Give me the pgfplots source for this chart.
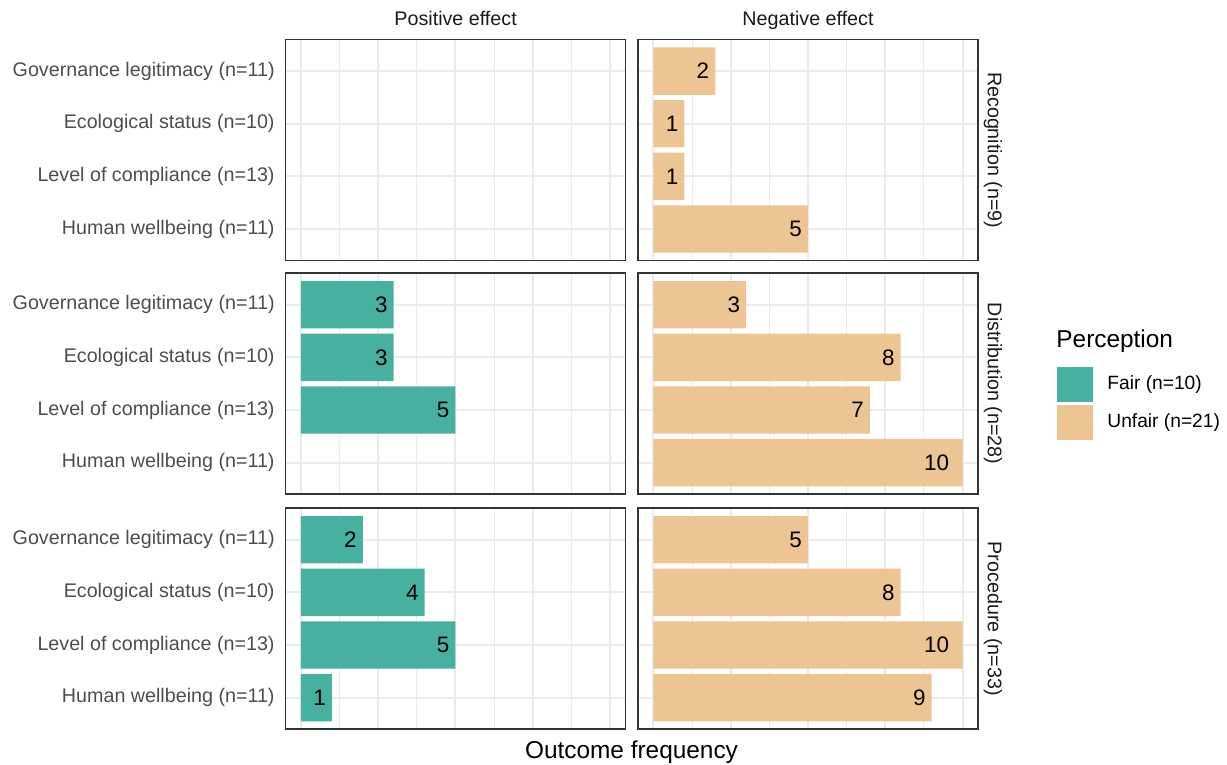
\documentclass[border=0pt]{standalone}
\usepackage{pgfplots}
\pgfplotsset{compat=1.18}
\usepackage{fontspec}
\setmainfont{Liberation Sans}

\definecolor{fair}{RGB}{72,176,160}
\definecolor{unfair}{RGB}{237,197,148}
\definecolor{gridc}{RGB}{235,235,235}
\definecolor{framec}{RGB}{51,51,51}
\definecolor{ticktext}{RGB}{77,77,77}
\definecolor{striptext}{RGB}{26,26,26}

% value label set just inside the end of each bar
\newcommand{\barlabel}{\makebox[0pt][r]{\makebox[1.6\width][l]{\pgfmathprintnumber{\pgfplotspointmeta}}}}

\pgfplotsset{
  panel/.style={
    scale only axis, width=170pt, height=110.5pt, anchor=south west,
    xmin=-0.5, xmax=10.5, ymin=0.4, ymax=4.6,
    xtick={0,2.5,5,7.5,10}, minor xtick={1.25,3.75,6.25,8.75},
    ytick={1,2,3,4}, xticklabels={}, yticklabels={},
    major tick length=0pt, minor tick length=0pt,
    tick style={draw=none},
    grid=both,
    major grid style={draw=gridc, line width=1pt},
    minor grid style={draw=gridc, line width=0.5pt},
    axis line style={draw=framec, line width=0.8pt},
    xbar, bar width=0.9, bar shift=0pt,
    /pgf/number format/assume math mode=true,
    nodes near coords={\barlabel},
    every node near coord/.append style={inner sep=0pt, font=\fontsize{11.2}{13}\selectfont, text=black},
  },
  leftpanel/.style={panel,
    yticklabels={Human wellbeing (n=11), Level of compliance (n=13), Ecological status (n=10), Governance legitimacy (n=11)},
    yticklabel style={font=\fontsize{9.85}{11}\selectfont, text=ticktext, inner sep=0pt, anchor=east, xshift=-5.25pt}},
}

\begin{document}
\begin{tikzpicture}
\path[use as bounding box] (0,0) rectangle (613.5pt,382.5pt);

% ---- Recognition ----
\begin{axis}[leftpanel, at={(142.75pt,252.2pt)}]
\end{axis}
\begin{axis}[panel, at={(319pt,252.2pt)}]
\addplot[draw=none, fill=unfair] coordinates {(2,4) (1,3) (1,2) (5,1)};
\end{axis}

% ---- Distribution ----
\begin{axis}[leftpanel, at={(142.75pt,135.4pt)}]
\addplot[draw=none, fill=fair] coordinates {(3,4) (3,3) (5,2)};
\end{axis}
\begin{axis}[panel, at={(319pt,135.4pt)}]
\addplot[draw=none, fill=unfair] coordinates {(3,4) (8,3) (7,2) (10,1)};
\end{axis}

% ---- Procedure ----
\begin{axis}[leftpanel, at={(142.75pt,17.9pt)}]
\addplot[draw=none, fill=fair] coordinates {(2,4) (4,3) (5,2) (1,1)};
\end{axis}
\begin{axis}[panel, at={(319pt,17.9pt)}]
\addplot[draw=none, fill=unfair] coordinates {(5,4) (8,3) (10,2) (9,1)};
\end{axis}

% strip labels
\begin{scope}[every node/.style={font=\fontsize{9.85}{11}\selectfont, text=striptext, inner sep=0pt}]
\node[anchor=base] at (227.8pt,369.5pt) {Positive effect};
\node[anchor=base] at (404pt,369.5pt) {Negative effect};
\node[rotate=-90] at (496.5pt,307.45pt) {Recognition (n=9)};
\node[rotate=-90] at (496.5pt,190.65pt) {Distribution (n=28)};
\node[rotate=-90] at (496.5pt,73.15pt) {Procedure (n=33)};
\end{scope}

% axis title
\node[anchor=base, inner sep=0pt, font=\fontsize{12.2}{14}\selectfont] at (315.75pt,3pt) {Outcome frequency};

% legend
\node[anchor=base west, inner sep=0pt, font=\fontsize{12.2}{14}\selectfont] at (528pt,208.5pt) {Perception};
\fill[fair] (528.5pt,181.5pt) rectangle (546.5pt,199pt);
\fill[unfair] (528.5pt,162.5pt) rectangle (546.5pt,180pt);
\node[anchor=west, inner sep=0pt, font=\fontsize{9.6}{11}\selectfont] at (553.5pt,190.25pt) {Fair (n=10)};
\node[anchor=west, inner sep=0pt, font=\fontsize{9.6}{11}\selectfont] at (553.5pt,171.25pt) {Unfair (n=21)};
\end{tikzpicture}
\end{document}
